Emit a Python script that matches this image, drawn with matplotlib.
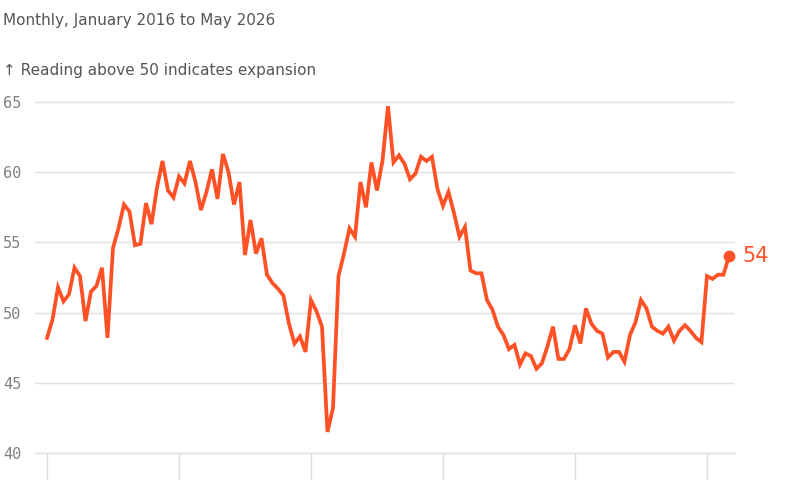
import matplotlib
matplotlib.use("Agg")
import matplotlib.pyplot as plt
import numpy as np

values = [
 48.2,49.5,51.8,50.8,51.3,53.2,52.6,49.4,51.5,51.9,53.2,48.2,
 54.6,56.0,57.7,57.2,54.8,54.9,57.8,56.3,58.9,60.8,58.7,58.2,
 59.7,59.2,60.8,59.3,57.3,58.6,60.2,58.1,61.3,60.0,57.7,59.3,
 54.1,56.6,54.2,55.3,52.7,52.1,51.7,51.2,49.2,47.8,48.3,47.2,
 50.9,50.1,49.0,41.5,43.2,52.6,54.2,56.0,55.4,59.3,57.5,60.7,
 58.7,60.8,64.7,60.7,61.2,60.6,59.5,59.9,61.1,60.8,61.1,58.8,
 57.6,58.6,57.1,55.4,56.1,53.0,52.8,52.8,50.9,50.2,49.0,48.4,
 47.4,47.7,46.3,47.1,46.9,46.0,46.4,47.6,49.0,46.7,46.7,47.4,
 49.1,47.8,50.3,49.2,48.7,48.5,46.8,47.2,47.2,46.5,48.4,49.3,
 50.9,50.3,49.0,48.7,48.5,49.0,48.0,48.7,49.1,48.7,48.2,47.9,
 52.6,52.4,52.7,52.7,54.0]
months = np.arange(len(values))
yticks = [40, 45, 50, 55, 60, 65]
xtick_months = [0, 24, 48, 72, 96, 120]
color = "#ff5126"

fig = plt.figure(figsize=(8, 4.8), dpi=100)
ax = fig.add_axes([35/800, 1-453/480, 700/800, (453-95)/480])
ax.axhline(40, color="#e0e0e0", lw=1, clip_on=False, zorder=0)
ax.plot(months, values, color=color, lw=2.7, solid_joinstyle="miter", clip_on=False)
ax.plot(months[-1], values[-1], "o", color=color, ms=7.5, clip_on=False)
ax.text(months[-1] + 2.5, values[-1], "54", color=color, fontsize=15, va="center", ha="left")
ax.set_xlim(-2.18, 125.1)
ax.set_ylim(40, 65.5)
ax.set_yticks(yticks)
ax.set_yticklabels([str(t) for t in yticks], family="DejaVu Sans Mono", color="#808080", fontsize=11)
ax.tick_params(axis="y", length=0, pad=10)
ax.set_xticks(xtick_months)
ax.set_xticklabels([])
ax.tick_params(axis="x", length=20, width=1, color="#dddddd", direction="out")
ax.grid(axis="y", color="#e0e0e0", lw=1)
for s in ax.spines.values():
    s.set_visible(False)
ax.set_axisbelow(True)
fig.text(3/800, 1-20/480, "Monthly, January 2016 to May 2026", fontsize=11, color="#555555", va="center")
fig.text(3/800, 1-70/480, "\u2191 Reading above 50 indicates expansion", fontsize=11, color="#555555", va="center")
fig.savefig("out.png", dpi=100)
